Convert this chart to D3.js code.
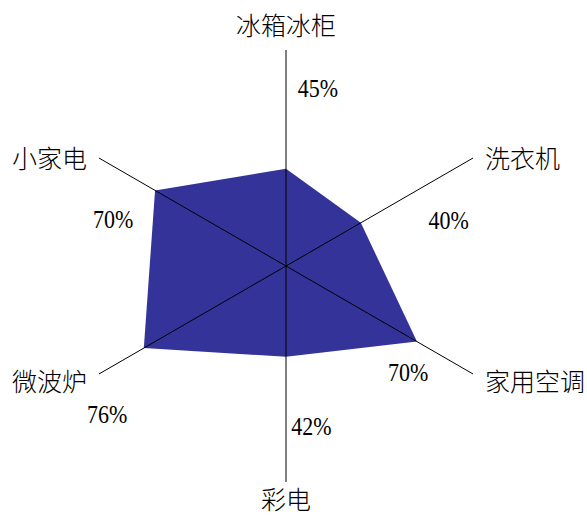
<!DOCTYPE html>
<html>
<head>
<meta charset="utf-8">
<script src="https://cdn.jsdelivr.net/npm/d3@7"></script>
<style>
  html, body { margin: 0; padding: 0; background: #fff; }
  svg { display: block; }
</style>
</head>
<body>
<svg id="chart" width="587" height="519"></svg>
<script>
// Appliance categories, clockwise from the top
const categories = ["冰箱冰柜", "洗衣机", "家用空调", "彩电", "微波炉", "小家电"];
// Share per category (percent)
const values = [45, 40, 70, 42, 76, 70];
// Value-label text
const valueLabels = ["45%", "40%", "70%", "42%", "76%", "70%"];

const width = 587, height = 519;
const cx = 286, cy = 266, R = 216;

const svg = d3.select("#chart");

const angle = d3.scaleLinear()
  .domain([0, categories.length])
  .range([0, 2 * Math.PI]);

const radius = d3.scaleLinear().domain([0, 100]).range([0, R]);

const g = svg.append("g").attr("transform", `translate(${cx},${cy})`);

// Filled data polygon
const radar = d3.lineRadial()
  .angle((d, i) => angle(i))
  .radius(d => radius(d))
  .curve(d3.curveLinearClosed);

g.append("path")
  .datum(values)
  .attr("d", radar)
  .attr("fill", "#333399")
  .attr("stroke", "none");

// Axis spokes drawn on top of the polygon
const pt = (i, r) => {
  const a = angle(i);
  return [r * Math.sin(a), -r * Math.cos(a)];
};

g.selectAll("line.spoke")
  .data(categories)
  .join("line")
  .attr("class", "spoke")
  .attr("x1", 0).attr("y1", 0)
  .attr("x2", (d, i) => pt(i, R)[0])
  .attr("y2", (d, i) => pt(i, R)[1])
  .attr("stroke", "#000")
  .attr("stroke-width", 1);

// Category names at the ends of the spokes
const catFont = "'Noto Sans CJK SC', sans-serif";
g.selectAll("text.cat")
  .data(categories)
  .join("text")
  .attr("class", "cat")
  .attr("font-family", catFont)
  .attr("font-size", 25)
  .attr("font-weight", 300)
  .attr("fill", "#000")
  .attr("dominant-baseline", "central")
  .each(function (d, i) {
    const a = angle(i);
    const s = Math.sin(a), c = Math.cos(a);
    const t = d3.select(this).text(d);
    if (Math.abs(s) < 1e-6) {
      const p = pt(i, c > 0 ? R + 26 : R + 16);
      t.attr("x", p[0]).attr("y", p[1]).attr("text-anchor", "middle");
    } else {
      const p = pt(i, R);
      const dy = c > 0 ? -1.5 : 5.5;
      t.attr("x", p[0] + (s > 0 ? 12 : -12))
       .attr("y", p[1] + dy)
       .attr("text-anchor", s > 0 ? "start" : "end");
    }
  });

// Value labels placed beside each spoke (radius, angular offset in degrees)
const valuePlacement = [[180, 10.2], [169, 14.2], [162, 11], [162, -9], [232, -9.6], [179, -15]];
const valFont = "'Liberation Serif', 'Times New Roman', serif";
g.selectAll("text.val")
  .data(valueLabels)
  .join("text")
  .attr("class", "val")
  .attr("font-family", valFont)
  .attr("font-size", 22)
  .attr("fill", "#000")
  .attr("text-anchor", "middle")
  .attr("dominant-baseline", "central")
  .attr("transform", (d, i) => {
    const [r, off] = valuePlacement[i];
    const a = angle(i) + off * Math.PI / 180;
    return `translate(${r * Math.sin(a)},${-r * Math.cos(a)}) scale(1,1.18)`;
  })
  .text(d => d);
</script>
</body>
</html>
